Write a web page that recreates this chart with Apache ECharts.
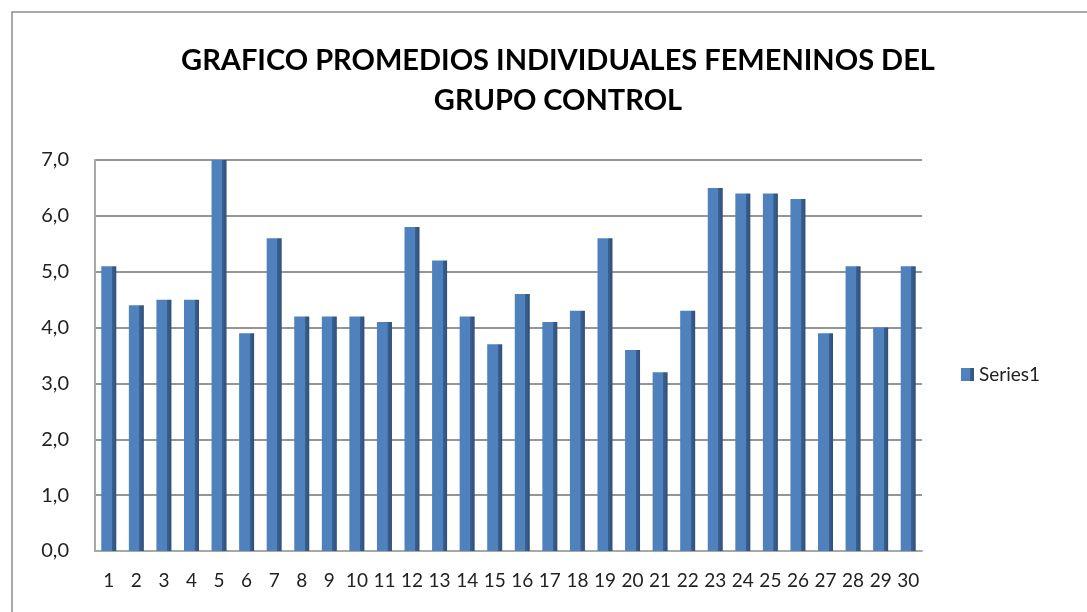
<!DOCTYPE html>
<html>
<head>
<meta charset="utf-8">
<script src="https://cdn.jsdelivr.net/npm/echarts@6/dist/echarts.min.js"></script>
<style>
  html, body { margin: 0; padding: 0; background: #fff; }
  #chart { width: 1087px; height: 612px; }
</style>
</head>
<body>
<div id="chart"></div>
<script>
"use strict";

// alumnas 1..30
const CATEGORIES = Array.from({ length: 30 }, (_, i) => String(i + 1));
const PROMEDIOS = [
  5.1, 4.4, 4.5, 4.5, 7.0, 3.9, 5.6, 4.2, 4.2, 4.2,
  4.1, 5.8, 5.2, 4.2, 3.7, 4.6, 4.1, 4.3, 5.6, 3.6,
  3.2, 4.3, 6.5, 6.4, 6.4, 6.3, 3.9, 5.1, 4.0, 5.1,
];
const SERIES_NAME = "Series1";
const TITLE = "GRAFICO PROMEDIOS INDIVIDUALES FEMENINOS DEL\nGRUPO CONTROL";

const FONT = "Lato, 'Open Sans', sans-serif";

// cara frontal + lateral oscura, imitando la barra 3D de Excel
const barColor = new echarts.graphic.LinearGradient(0, 0, 1, 0, [
  { offset: 0, color: "#4F81BD" },
  { offset: 0.7, color: "#4F81BD" },
  { offset: 0.71, color: "#3A6194" },
  { offset: 1, color: "#2F4F78" },
]);

const chart = echarts.init(document.getElementById("chart"));
chart.setOption({
  animation: false,
  backgroundColor: "#fff",
  graphic: [{
    type: "rect", silent: true,
    shape: { x: 12, y: 12, width: 1200, height: 800 },
    style: { fill: "none", stroke: "#8c8c8c", lineWidth: 1.5 },
  }],
  title: {
    text: TITLE,
    left: 553, top: 36, textAlign: "center",
    textStyle: { fontFamily: FONT, fontWeight: "bold", fontSize: 29, lineHeight: 40, color: "#000" },
  },
  legend: {
    data: [SERIES_NAME],
    right: 42, top: 360,
    itemWidth: 13, itemHeight: 13, itemGap: 6,
    icon: "rect",
    textStyle: { fontFamily: FONT, fontSize: 19, color: "#222" },
  },
  grid: { left: 95, right: 165, top: 160, bottom: 61, containLabel: false },
  xAxis: {
    type: "category",
    data: CATEGORIES,
    axisLine: { show: true, lineStyle: { color: "#a8a8a8", width: 2 } },
    axisTick: { show: false },
    axisLabel: { fontFamily: FONT, fontSize: 19, color: "#222", margin: 20, interval: 0 },
  },
  yAxis: {
    type: "value",
    min: 0, max: 7, interval: 1,
    axisLine: { show: true, lineStyle: { color: "#a8a8a8", width: 2 } },
    axisTick: { show: false },
    splitLine: { lineStyle: { color: "#959595", width: 2 } },
    axisLabel: {
      fontFamily: FONT, fontSize: 20, color: "#222", margin: 26,
      formatter: v => v.toFixed(1).replace(".", ","),
    },
  },
  series: [{
    name: SERIES_NAME,
    type: "bar",
    data: PROMEDIOS,
    barWidth: 15,
    itemStyle: { color: barColor },
  }],
});
</script>
</body>
</html>
